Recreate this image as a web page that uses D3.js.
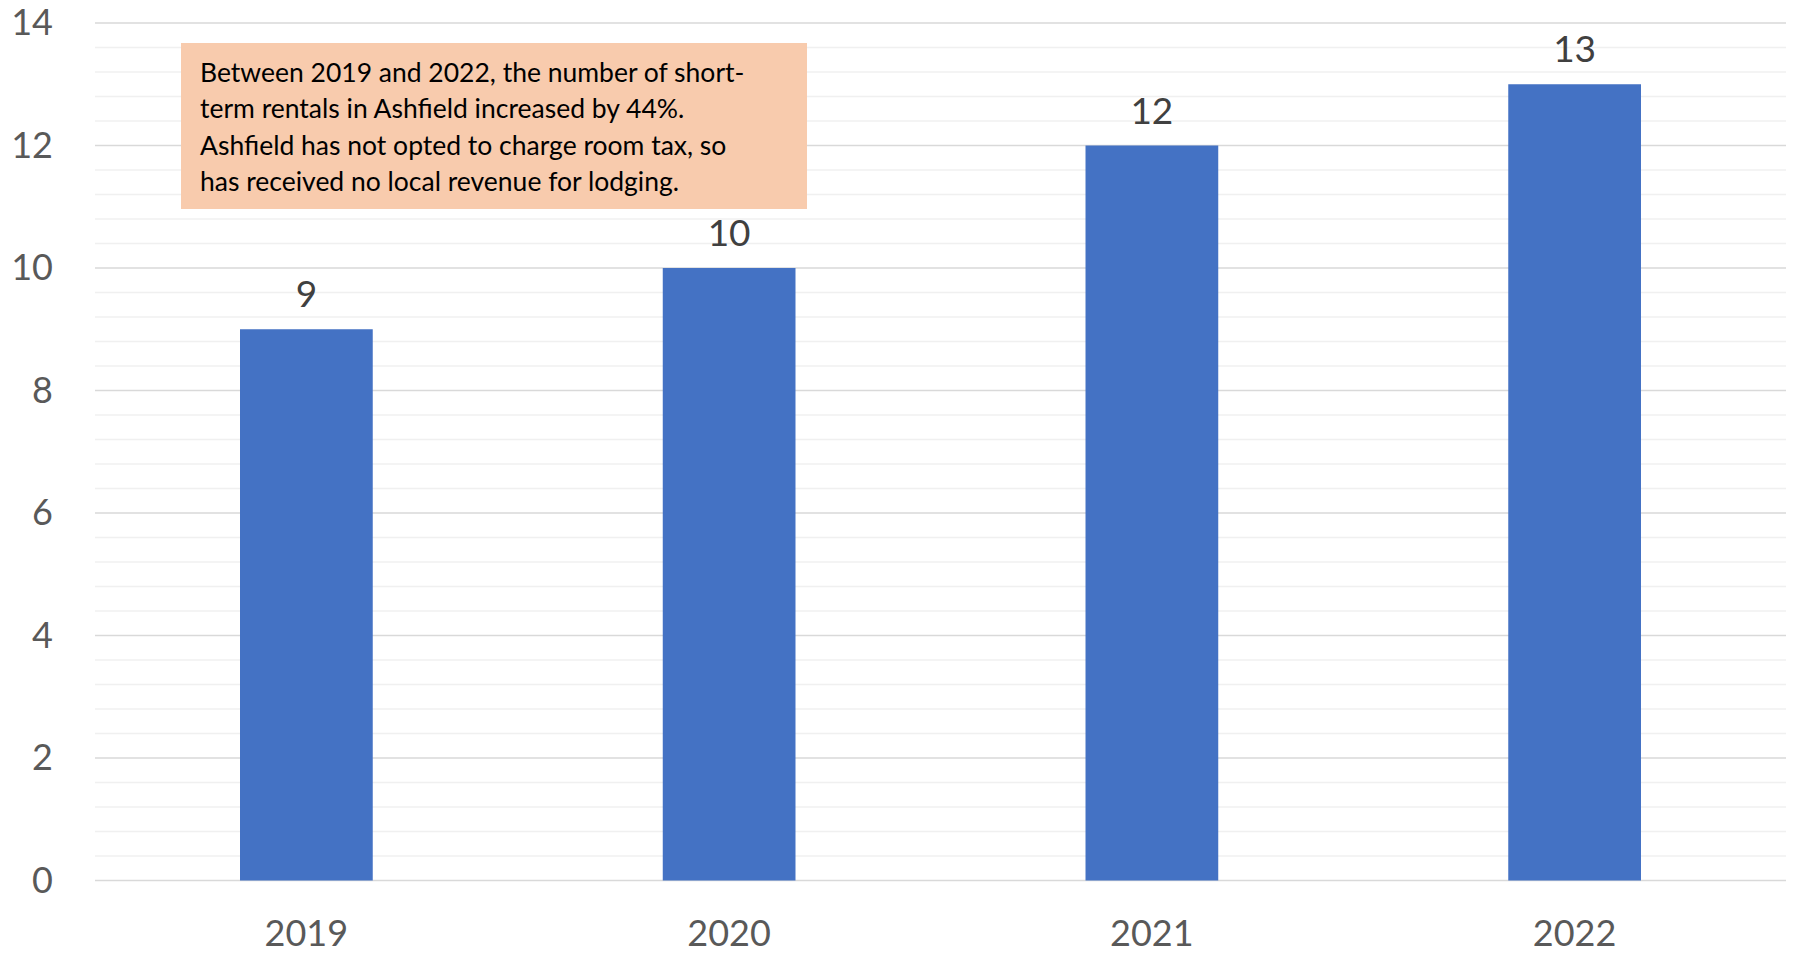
<!DOCTYPE html>
<html>
<head>
<meta charset="utf-8">
<script src="https://cdn.jsdelivr.net/npm/d3@7"></script>
<style>
  html, body { margin: 0; padding: 0; background: #ffffff; }
  svg { display: block; }
</style>
</head>
<body>
<svg id="chart" width="1793" height="954"></svg>
<script>
// Short-term rentals in Ashfield, by year
const years = ["2019", "2020", "2021", "2022"];
const rentals = [9, 10, 12, 13];
const yTicks = [0, 2, 4, 6, 8, 10, 12, 14];
const noteLines = [
  "Between 2019 and 2022, the number of short-",
  "term rentals in Ashfield increased by 44%.",
  "Ashfield has not opted to charge room tax, so",
  "has received no local revenue for lodging."
];

const W = 1793, H = 954;
const margin = { top: 23, right: 7, bottom: 73.5, left: 95 };
const font = "Lato, 'Open Sans', sans-serif";

const svg = d3.select("#chart");
const plot = svg.append("g").attr("transform", `translate(${margin.left},${margin.top})`);
const iw = W - margin.left - margin.right;
const ih = H - margin.top - margin.bottom;

const x = d3.scaleBand().domain(years).range([0, iw]).paddingInner(0.686).paddingOuter(0.343);
const y = d3.scaleLinear().domain([0, 14]).range([ih, 0]);

// minor gridlines every 0.4
const minor = d3.range(0, 14.0001, 0.4).filter(v => Math.abs(v / 2 - Math.round(v / 2)) > 1e-6);
plot.append("g").selectAll("line").data(minor).join("line")
  .attr("x1", 0).attr("x2", iw)
  .attr("y1", d => y(d)).attr("y2", d => y(d))
  .attr("stroke", "#f0f0f0").attr("stroke-width", 1.5);

// major gridlines
plot.append("g").selectAll("line").data(yTicks).join("line")
  .attr("x1", 0).attr("x2", iw)
  .attr("y1", d => y(d)).attr("y2", d => y(d))
  .attr("stroke", "#d9d9d9").attr("stroke-width", 1.5);

// y axis labels
const yAxis = d3.axisLeft(y).tickValues(yTicks).tickSize(0).tickPadding(42);
const gy = plot.append("g").call(yAxis);
gy.select(".domain").remove();
gy.selectAll("text").attr("font-family", font).attr("font-size", 36).attr("fill", "#595959");

// bars
plot.append("g").selectAll("rect").data(years).join("rect")
  .attr("x", d => x(d))
  .attr("y", (d, i) => y(rentals[i]))
  .attr("width", x.bandwidth())
  .attr("height", (d, i) => ih - y(rentals[i]))
  .attr("fill", "#4472c4");

// value labels
plot.append("g").selectAll("text").data(years).join("text")
  .attr("x", d => x(d) + x.bandwidth() / 2)
  .attr("y", (d, i) => y(rentals[i]) - 22)
  .attr("text-anchor", "middle")
  .attr("font-family", font).attr("font-size", 37).attr("fill", "#404040")
  .text((d, i) => rentals[i]);

// x axis labels
const xAxis = d3.axisBottom(x).tickSize(0).tickPadding(40);
const gx = plot.append("g").attr("transform", `translate(0,${ih})`).call(xAxis);
gx.select(".domain").remove();
gx.selectAll("text").attr("font-family", font).attr("font-size", 36).attr("fill", "#595959");

// annotation box
const note = svg.append("g").attr("transform", "translate(181,43)");
note.append("rect").attr("width", 626).attr("height", 166).attr("fill", "#f8cbad");
note.append("g").selectAll("text").data(noteLines).join("text")
  .attr("x", 19)
  .attr("y", (d, i) => 39 + i * 36.3)
  .attr("font-family", font).attr("font-size", 26.5).attr("fill", "#000000")
  .text(d => d);
</script>
</body>
</html>
